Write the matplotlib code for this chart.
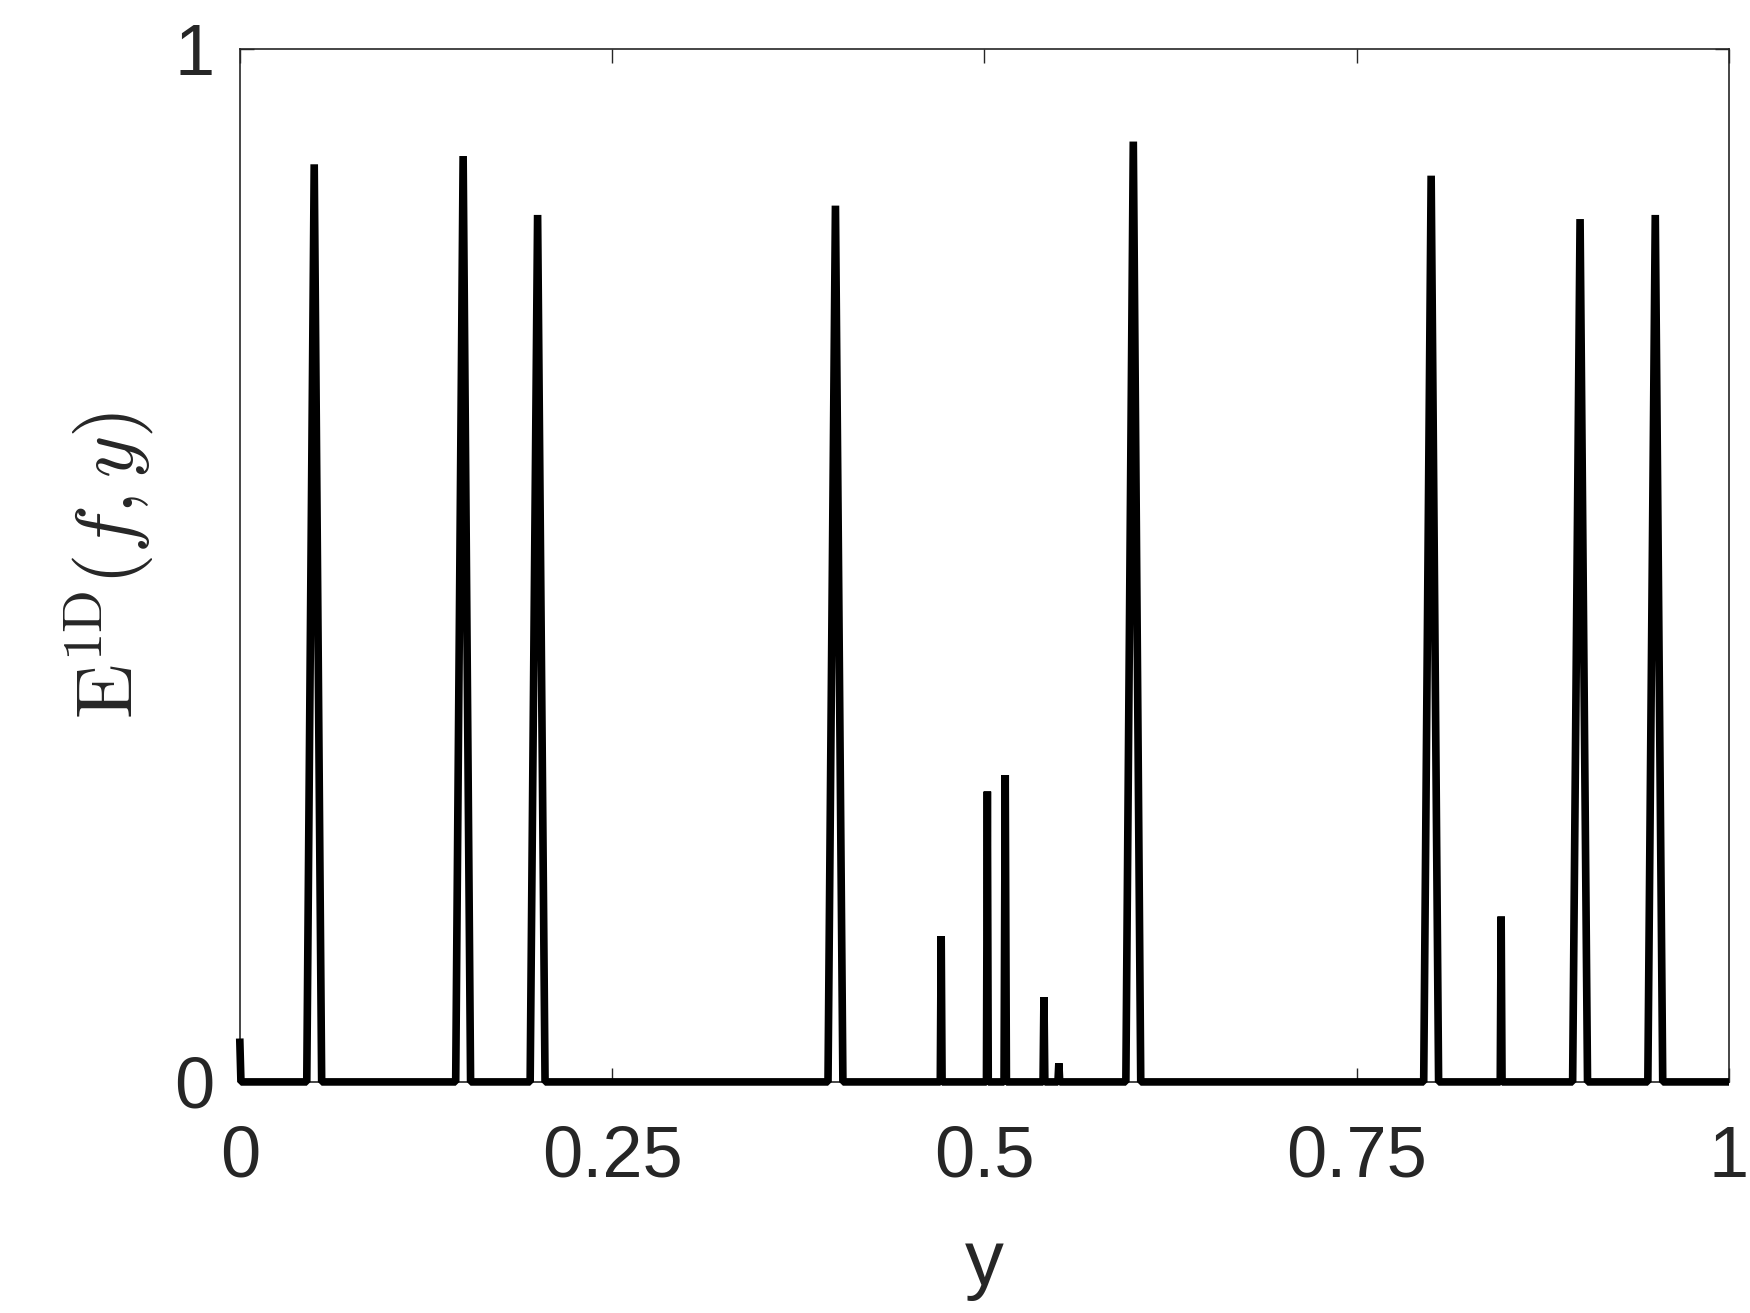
import matplotlib
matplotlib.use('Agg')
import matplotlib.pyplot as plt
import numpy as np

plt.rcParams['font.family'] = ['Liberation Sans', 'DejaVu Sans']
plt.rcParams['mathtext.fontset'] = 'cm'

# peak centres, heights and half-widths
peak_y = [0.05, 0.15, 0.20, 0.40, 0.471, 0.502, 0.514, 0.540, 0.550,
          0.60, 0.80, 0.847, 0.90, 0.9505]
peak_h = [0.888, 0.896, 0.839, 0.848, 0.141, 0.281, 0.297, 0.082, 0.018,
          0.910, 0.877, 0.160, 0.835, 0.839]
peak_w = [0.005, 0.005, 0.005, 0.005, 0.0006, 0.0006, 0.0008, 0.0006, 0.0006,
          0.005, 0.005, 0.0006, 0.005, 0.005]
start_h = 0.042

# build the polyline
xs = [0.0, 0.0008]
ys = [start_h, 0.0]
for c, h, w in zip(peak_y, peak_h, peak_w):
    xs += [c - w, c, c + w]
    ys += [0.0, h, 0.0]
xs.append(1.0)
ys.append(0.0)

fig = plt.figure(figsize=(17.5, 13.13), dpi=100)
ax = fig.add_axes([0.137, 0.176, 0.851, 0.787])

ax.plot(xs, ys, color='black', linewidth=5.5, solid_joinstyle='bevel',
        solid_capstyle='butt', clip_on=False, zorder=3)

ax.set_xlim(0, 1)
ax.set_ylim(0, 1)
ax.set_xticks([0, 0.25, 0.5, 0.75, 1])
ax.set_xticklabels(['0', '0.25', '0.5', '0.75', '1'])
ax.set_yticks([0, 1])
ax.set_yticklabels(['0', '1'])

for s in ax.spines.values():
    s.set_color('#262626')
    s.set_linewidth(1.2)
ax.tick_params(direction='in', length=10, width=1.0, colors='#262626',
               labelsize=52, top=True, right=True)
ax.tick_params(axis='x', pad=31)
ax.tick_params(axis='y', pad=18)

ax.set_xlabel('y', fontsize=56, color='#262626', labelpad=26)
ax.set_ylabel(r'$\mathrm{E}^{\mathrm{1D}}(f,y)$', fontsize=58, color='#262626', labelpad=14)

fig.savefig('out.png', dpi=100)
